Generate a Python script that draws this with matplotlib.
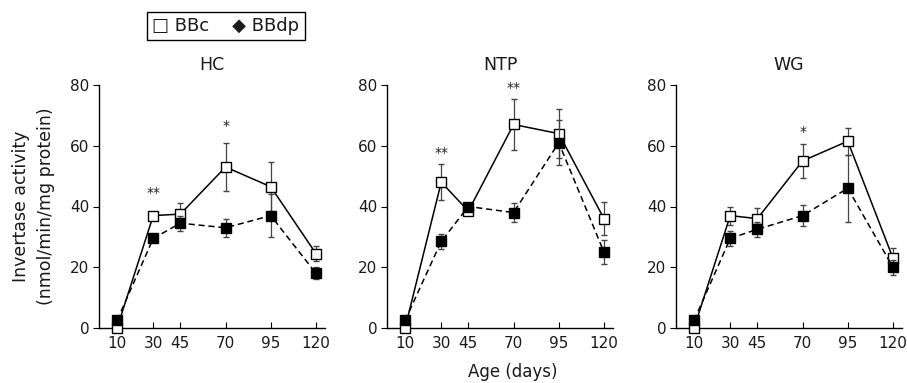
import matplotlib
matplotlib.use("Agg")
import matplotlib.pyplot as plt

plt.rcParams['font.family'] = ['DejaVu Sans']

ages = [10, 30, 45, 70, 95, 120]
panels = ["HC", "NTP", "WG"]

bbc = {
    "HC":  [0, 37, 37.5, 53, 46.5, 24.5],
    "NTP": [0, 48, 38.5, 67, 64, 36],
    "WG":  [0, 37, 36, 55, 61.5, 23],
}
bbc_err = {
    "HC":  [0, 1, 3.5, 8, 8, 2.5],
    "NTP": [0, 6, 1, 8.5, 8, 5.5],
    "WG":  [0, 3, 3.5, 5.5, 4.5, 3.5],
}
bbdp = {
    "HC":  [2.5, 29.5, 34.5, 33, 37, 18],
    "NTP": [2.5, 28.5, 40, 38, 61, 25],
    "WG":  [2.5, 29.5, 32.5, 37, 46, 20],
}
bbdp_err = {
    "HC":  [0, 1, 2.5, 3, 7, 2],
    "NTP": [0, 2.5, 1, 3, 7.5, 4],
    "WG":  [0, 2.5, 2.5, 3.5, 11, 2.5],
}
stars = {
    "HC":  [(30, 44.5, "**"), (70, 66.5, "*")],
    "NTP": [(30, 57.5, "**"), (70, 79, "**")],
    "WG":  [(70, 64.5, "*")],
}

fig = plt.figure(figsize=(9.07, 3.83), dpi=100)
lefts = [99, 387, 676]
W, H = 907, 383
txt = '#1a1a1a'
for i, name in enumerate(panels):
    ax = fig.add_axes([lefts[i] / W, (H - 328) / H, 226 / W, 243 / H])
    ax.errorbar(ages, bbc[name], yerr=bbc_err[name], color='black', ls='-', lw=1.1,
                marker='s', ms=7.5, mfc='white', mec='black', mew=1.0,
                ecolor='#444444', elinewidth=0.9, capsize=2.5, capthick=0.9,
                clip_on=False, zorder=3)
    ax.errorbar(ages, bbdp[name], yerr=bbdp_err[name], color='black', ls=(0, (4, 2.5)), lw=1.1,
                marker='s', ms=7.5, mfc='black', mec='black', mew=1.0,
                ecolor='#444444', elinewidth=0.9, capsize=2.5, capthick=0.9,
                clip_on=False, zorder=4)
    for x, y, s in stars[name]:
        ax.text(x, y, s, ha='center', va='center', fontsize=10, color='#222222')
    ax.set_xlim(0, 125)
    ax.set_ylim(0, 80)
    ax.set_xticks(ages)
    ax.set_yticks([0, 20, 40, 60, 80])
    for sp in ['top', 'right']:
        ax.spines[sp].set_visible(False)
    for sp in ['left', 'bottom']:
        ax.spines[sp].set_linewidth(1.0)
    ax.tick_params(axis='x', direction='in', length=4, labelsize=11, pad=6, labelcolor=txt)
    ax.tick_params(axis='y', direction='out', length=4, labelsize=11, pad=3, labelcolor=txt)
    ax.set_title(name, fontsize=12.5, pad=11, color=txt)
    if i == 0:
        ax.set_ylabel("Invertase activity\n(nmol/min/mg protein)", fontsize=12.5,
                      labelpad=11, linespacing=1.5, color=txt)

fig.text(513 / W, 1 - 372 / H, "Age (days)", ha='center', va='center', fontsize=12, color=txt)

fig.text(226 / W, 1 - 26 / H, "\u25a1 BBc    \u25c6 BBdp", ha='center', va='center',
         fontsize=13, color=txt,
         bbox=dict(boxstyle='square,pad=0.3', fc='white', ec='black', lw=1.0))

fig.savefig("out.png", dpi=100)
